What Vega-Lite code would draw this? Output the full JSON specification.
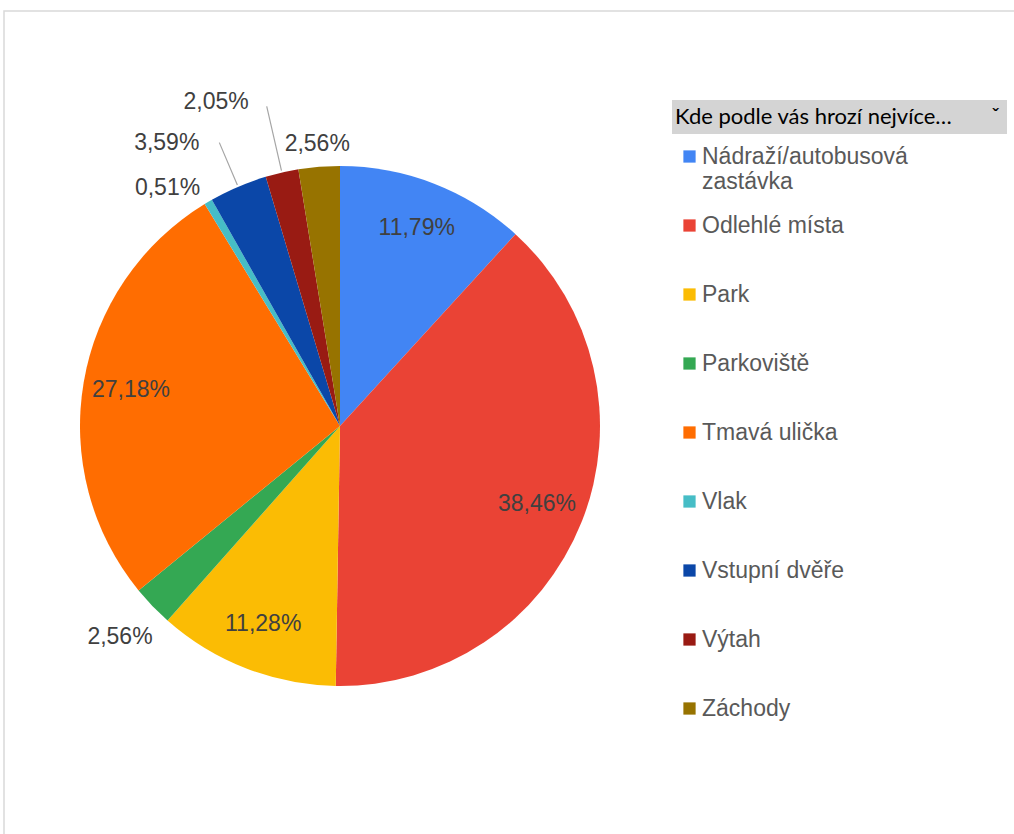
{
  "$schema": "https://vega.github.io/schema/vega-lite/v6.json",
  "autosize": {"type": "none"},
  "width": 1015,
  "height": 830,
  "padding": {"left": 4, "top": 11, "right": 0, "bottom": 0},
  "background": "white",
  "view": {"stroke": "#d9d9d9", "strokeWidth": 1.5},
  "config": {
    "locale": {"number": {"decimal": ",", "thousands": "\u00a0", "grouping": [3], "currency": ["", "\u00a0Kč"], "percent": "%"}}
  },
  "data": {"values": [
    {"misto": "Nádraží/autobusová zastávka", "podil": 0.1179},
    {"misto": "Odlehlé místa", "podil": 0.3846},
    {"misto": "Park", "podil": 0.1128},
    {"misto": "Parkoviště", "podil": 0.0256},
    {"misto": "Tmavá ulička", "podil": 0.2718},
    {"misto": "Vlak", "podil": 0.0051},
    {"misto": "Vstupní dvěře", "podil": 0.0359},
    {"misto": "Výtah", "podil": 0.0205},
    {"misto": "Záchody", "podil": 0.0256}
  ]},
  "encoding": {
    "theta": {"field": "podil", "type": "quantitative", "stack": true},
    "order": {"field": "misto", "type": "nominal", "sort": "ascending"},
    "color": {
      "field": "misto", "type": "nominal",
      "scale": {
        "domain": ["Nádraží/autobusová zastávka", "Odlehlé místa", "Park", "Parkoviště", "Tmavá ulička", "Vlak", "Vstupní dvěře", "Výtah", "Záchody"],
        "range": ["#4285F4", "#EA4335", "#FBBC04", "#34A853", "#FF6D01", "#46BDC6", "#0B47A8", "#991B13", "#977300"]
      },
      "legend": {
        "title": null, "orient": "none", "legendX": 674, "legendY": 134,
        "padding": 0, "symbolType": "square", "symbolSize": 150, "symbolStrokeWidth": 0, "symbolOpacity": 1,
        "labelFont": "Liberation Sans", "labelFontSize": 23, "labelColor": "#595959", "labelOffset": 1,
        "labelLimit": 330, "rowPadding": 20, "gridAlign": "all",
        "labelExpr": "datum.label == 'Nádraží/autobusová zastávka' ? ['Nádraží/autobusová', 'zastávka'] : datum.label"
      }
    }
  },
  "layer": [
    {
      "mark": {"type": "arc", "outerRadius": 260, "x": 336, "y": 415}
    },
    {
      "mark": {"type": "arc", "innerRadius": 262, "outerRadius": 308, "padAngle": 1.5, "x": 336, "y": 415, "stroke": "#a6a6a6", "strokeWidth": 1.2},
      "encoding": {
        "fillOpacity": {"value": 0},
        "strokeOpacity": {"condition": {"test": "datum.misto === 'Vstupní dvěře'", "value": 1}, "value": 0}
      }
    },
    {
      "mark": {"type": "arc", "innerRadius": 262, "outerRadius": 328, "padAngle": 1.5, "x": 336, "y": 415, "stroke": "#a6a6a6", "strokeWidth": 1.2},
      "encoding": {
        "fillOpacity": {"value": 0},
        "strokeOpacity": {"condition": {"test": "datum.misto === 'Výtah'", "value": 1}, "value": 0}
      }
    },
    {
      "mark": {"type": "text", "radius": 212, "x": 336, "y": 415, "font": "Liberation Sans", "fontSize": 23},
      "encoding": {
        "fill": {"value": "#404040"},
        "text": {"condition": {"test": "datum.podil > 0.05", "field": "podil", "type": "quantitative", "format": ".2%"}, "value": ""}
      }
    },
    {
      "mark": {"type": "text", "radius": 305, "x": 336, "y": 415, "font": "Liberation Sans", "fontSize": 23},
      "encoding": {
        "fill": {"value": "#404040"},
        "text": {"condition": {"test": "datum.misto === 'Parkoviště'", "field": "podil", "type": "quantitative", "format": ".2%"}, "value": ""}
      }
    },
    {
      "mark": {"type": "text", "radius": 283, "x": 336, "y": 415, "font": "Liberation Sans", "fontSize": 23},
      "encoding": {
        "fill": {"value": "#404040"},
        "text": {"condition": {"test": "datum.misto === 'Záchody'", "field": "podil", "type": "quantitative", "format": ".2%"}, "value": ""}
      }
    },
    {
      "mark": {"type": "text", "radius": 276, "align": "right", "x": 336, "y": 415, "font": "Liberation Sans", "fontSize": 23},
      "encoding": {
        "fill": {"value": "#404040"},
        "text": {"condition": {"test": "datum.misto === 'Vlak'", "field": "podil", "type": "quantitative", "format": ".2%"}, "value": ""}
      }
    },
    {
      "mark": {"type": "text", "radius": 308, "align": "right", "dx": -20, "x": 336, "y": 415, "font": "Liberation Sans", "fontSize": 23},
      "encoding": {
        "fill": {"value": "#404040"},
        "text": {"condition": {"test": "datum.misto === 'Vstupní dvěře'", "field": "podil", "type": "quantitative", "format": ".2%"}, "value": ""}
      }
    },
    {
      "mark": {"type": "text", "radius": 328, "align": "right", "dx": -18, "dy": -4, "x": 336, "y": 415, "font": "Liberation Sans", "fontSize": 23},
      "encoding": {
        "fill": {"value": "#404040"},
        "text": {"condition": {"test": "datum.misto === 'Výtah'", "field": "podil", "type": "quantitative", "format": ".2%"}, "value": ""}
      }
    },
    {
      "mark": {"type": "point", "opacity": 0},
      "encoding": {
        "theta": null,
        "color": null,
        "order": null,
        "shape": {
          "datum": "Kde podle vás hrozí nejvíce…\u00a0\u00a0\u00a0\u00a0\u00a0\u00a0\u00a0ˇ",
          "type": "nominal",
          "legend": {
            "title": null, "orient": "none", "legendX": 668, "legendY": 89,
            "padding": 6, "fillColor": "#d4d4d4", "symbolSize": 0, "symbolOpacity": 0, "labelOffset": -25,
            "labelFont": "Lato", "labelFontSize": 22, "labelColor": "#000000", "labelLimit": 0
          }
        }
      }
    }
  ]
}
